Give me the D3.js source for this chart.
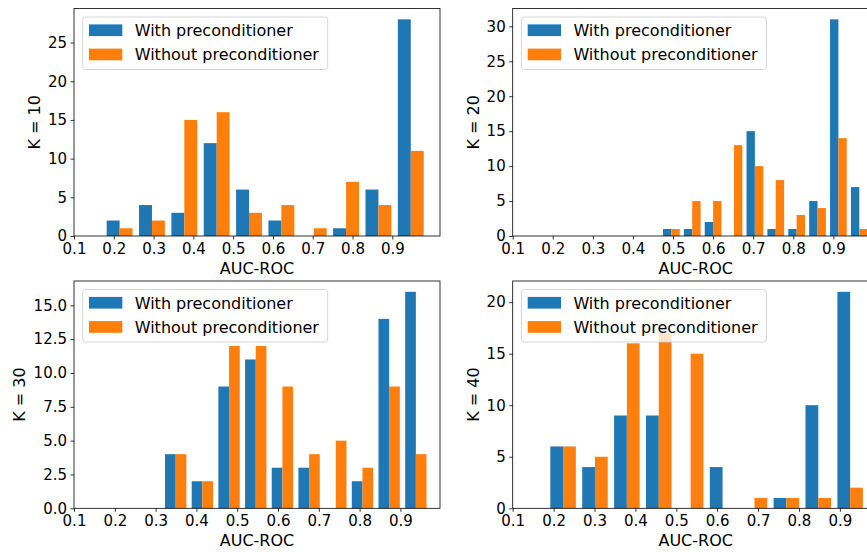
<!DOCTYPE html>
<html>
<head>
<meta charset="utf-8">
<script src="https://cdn.jsdelivr.net/npm/d3@7"></script>
<style>
  html, body { margin: 0; padding: 0; background: #fff; }
  svg { display: block; font-family: "DejaVu Sans", sans-serif; }
</style>
</head>
<body>
<svg id="chart" width="867" height="552"></svg>
<script>
// AUC-ROC histograms, 10 bins each, for K = 10, 20, 30, 40
const panelLabels = ["K = 10", "K = 20", "K = 30", "K = 40"];
const seriesNames = ["With preconditioner", "Without preconditioner"];
const seriesColors = ["#1f77b4", "#ff7f0e"];

// bin layout per panel (AUC-ROC units)
const binStart = [0.174, 0.4698, 0.3165, 0.1842];
const binWidth = [0.0813, 0.0521, 0.0654, 0.0780];
const xMax = [1.0198, 1.0132, 0.997, 0.995];

// counts per bin
const withPre = [
  [2, 4, 3, 12, 6, 2, 0, 1, 6, 28],
  [1, 1, 2, 0, 15, 1, 1, 5, 31, 7],
  [4, 2, 9, 11, 3, 3, 0, 2, 14, 16],
  [6, 4, 9, 9, 0, 4, 0, 1, 10, 21]
];
const withoutPre = [
  [1, 2, 15, 16, 3, 4, 1, 7, 4, 11],
  [1, 5, 5, 13, 10, 8, 3, 4, 14, 1],
  [4, 2, 12, 12, 9, 4, 5, 3, 9, 4],
  [6, 5, 16, 17, 15, 0, 1, 1, 1, 2]
];

const xTicks = [0.1, 0.2, 0.3, 0.4, 0.5, 0.6, 0.7, 0.8, 0.9];
const yTicks = [
  [0, 5, 10, 15, 20, 25],
  [0, 5, 10, 15, 20, 25, 30],
  [0, 2.5, 5, 7.5, 10, 12.5, 15],
  [0, 5, 10, 15, 20]
];
const yFormats = [d3.format("d"), d3.format("d"), d3.format(".1f"), d3.format("d")];

// axes boxes
const boxes = [
  { left: 74,    top: 8.5,   width: 366, height: 227.5 },
  { left: 512.7, top: 8.5,   width: 366, height: 227.5 },
  { left: 74,    top: 281,   width: 366, height: 227.3 },
  { left: 512.7, top: 281,   width: 366, height: 227.3 }
];
const yLabelX = [34, 473, 19, 473];

const svg = d3.select("#chart");
const tickFont = 15;
const labelFont = 16;

panelLabels.forEach((label, p) => {
  const b = boxes[p];
  const g = svg.append("g").attr("transform", `translate(${b.left},${b.top})`);

  const x = d3.scaleLinear().domain([0.1, xMax[p]]).range([0, b.width]);
  const yMax = d3.max(withPre[p].concat(withoutPre[p])) * 1.05;
  const y = d3.scaleLinear().domain([0, yMax]).range([b.height, 0]);

  const w = binWidth[p];
  const bins = withPre[p].map((v, i) => ({
    lo: binStart[p] + i * w,
    vals: [v, withoutPre[p][i]]
  }));

  // bars: two series side by side inside 80% of each bin
  [0, 1].forEach(s => {
    g.append("g").selectAll("rect")
      .data(bins)
      .join("rect")
      .attr("x", d => x(d.lo + w * (0.1 + 0.4 * s)))
      .attr("width", d => x(d.lo + w * (0.5 + 0.4 * s)) - x(d.lo + w * (0.1 + 0.4 * s)))
      .attr("y", d => y(d.vals[s]))
      .attr("height", d => y(0) - y(d.vals[s]))
      .attr("fill", seriesColors[s]);
  });

  // axes
  const xAxis = d3.axisBottom(x).tickValues(xTicks).tickFormat(d3.format(".1f"))
    .tickSize(3.5).tickPadding(3.5);
  const yAxis = d3.axisLeft(y).tickValues(yTicks[p]).tickFormat(yFormats[p])
    .tickSize(3.5).tickPadding(3.5);

  const gx = g.append("g").attr("transform", `translate(0,${b.height})`).call(xAxis);
  const gy = g.append("g").call(yAxis);
  [gx, gy].forEach(a => {
    a.select(".domain").remove();
    a.selectAll("line").attr("stroke", "#000").attr("stroke-width", 0.8);
    a.selectAll("text").attr("font-size", tickFont).attr("fill", "#000")
      .attr("font-family", "DejaVu Sans, sans-serif");
  });

  // frame
  g.append("rect")
    .attr("x", 0).attr("y", 0).attr("width", b.width).attr("height", b.height)
    .attr("fill", "none").attr("stroke", "#000").attr("stroke-width", 0.8);

  // axis titles
  svg.append("text")
    .attr("x", b.left + b.width / 2)
    .attr("y", b.top + b.height + 38)
    .attr("text-anchor", "middle")
    .attr("font-size", labelFont)
    .text("AUC-ROC");

  svg.append("text")
    .attr("transform", `translate(${yLabelX[p]},${b.top + b.height / 2}) rotate(-90)`)
    .attr("text-anchor", "middle")
    .attr("dominant-baseline", "central")
    .attr("font-size", labelFont)
    .text(label);

  // legend
  const lg = g.append("g").attr("transform", "translate(8.7,8.5)");
  lg.append("rect")
    .attr("width", 245).attr("height", 52.5).attr("rx", 3)
    .attr("fill", "#fff").attr("fill-opacity", 0.8)
    .attr("stroke", "#ccc").attr("stroke-width", 0.8);
  seriesNames.forEach((name, s) => {
    const cy = 13.2 + s * 24.2;
    lg.append("rect")
      .attr("x", 6.3).attr("y", cy - 5.8).attr("width", 33.3).attr("height", 11.7)
      .attr("fill", seriesColors[s]);
    lg.append("text")
      .attr("x", 52).attr("y", cy + 5.8)
      .attr("font-size", labelFont)
      .attr("fill", "#000")
      .text(name);
  });
});
</script>
</body>
</html>
